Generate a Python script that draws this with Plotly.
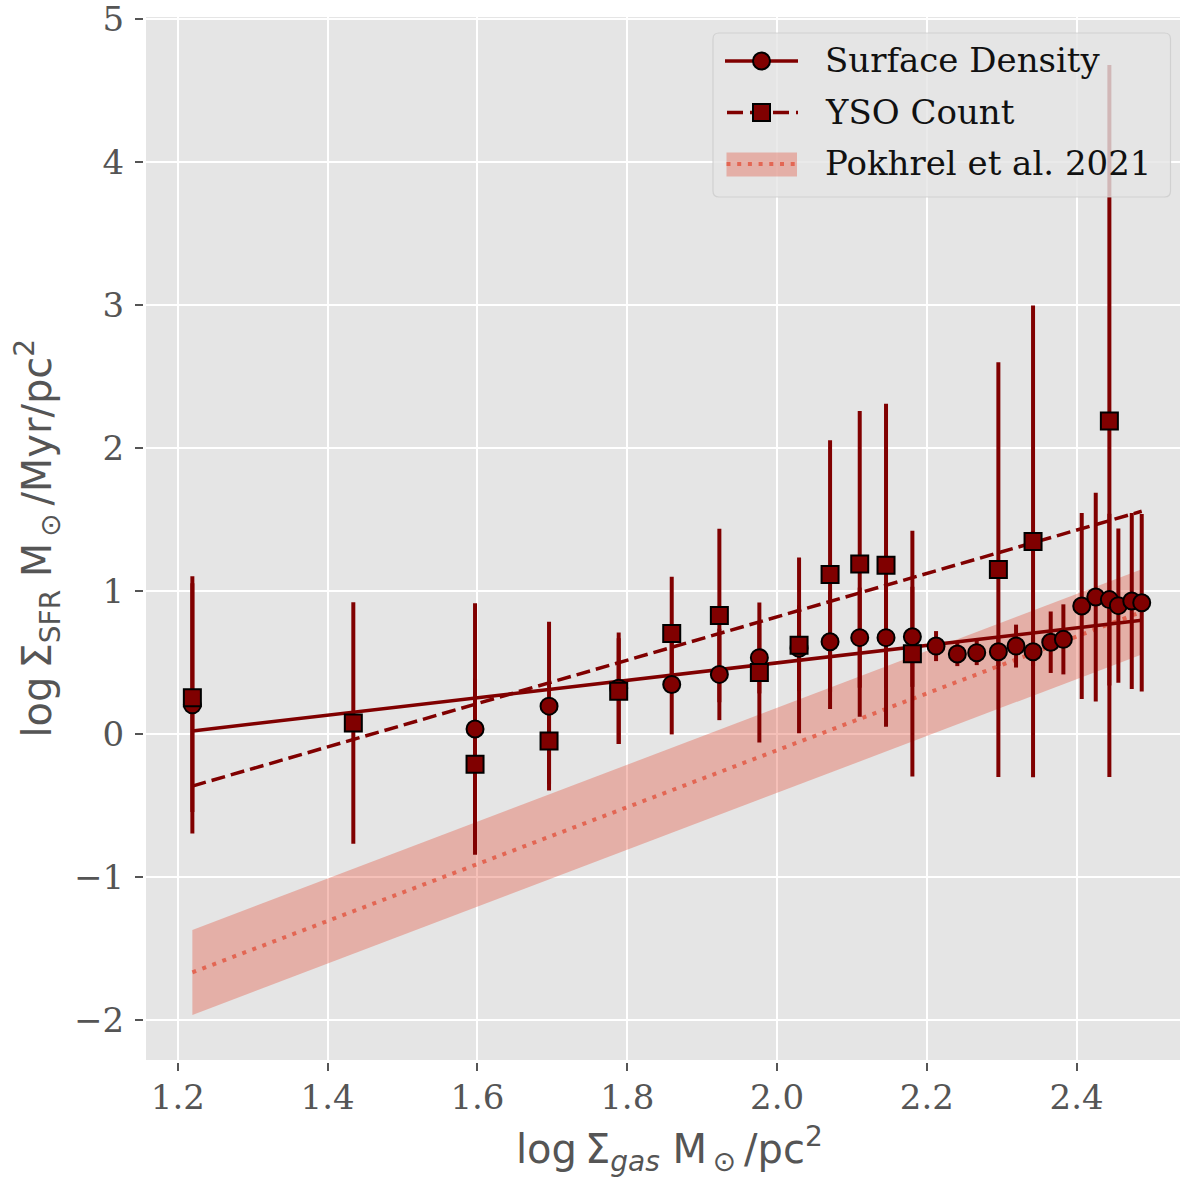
import plotly.graph_objects as go

# ---- Star formation rate per gas surface density bin ----
# Surface-density based estimate (circles)
sd_x = [1.2194, 1.5968, 1.6956, 1.7886, 1.8594, 1.9230, 1.9764, 2.0294, 2.0708,
        2.1104, 2.1455, 2.1807, 2.2123, 2.2407, 2.2666, 2.2955, 2.3191, 2.3418,
        2.3654, 2.3823, 2.4068, 2.4255, 2.4437, 2.4557, 2.4736, 2.4869]
sd_y = [0.204, 0.035, 0.195, 0.32, 0.347, 0.417, 0.534, 0.60, 0.645,
        0.674, 0.674, 0.68, 0.615, 0.56, 0.569, 0.576, 0.615, 0.576,
        0.642, 0.662, 0.895, 0.958, 0.94, 0.898, 0.93, 0.918]
sd_err = [0.90, 0.88, 0.59, 0.39, 0.35, 0.32, 0.25, 0.30, 0.35,
          0.35, 0.35, 0.35, 0.105, 0.085, 0.087, 0.10, 0.15, 0.10,
          0.215, 0.245, 0.65, 0.73, 0.60, 0.54, 0.615, 0.62]

# YSO-count based estimate (squares)
yso_x = [1.2194, 1.4343, 1.5968, 1.6956, 1.7886, 1.8594, 1.9230, 1.9764,
         2.0294, 2.0708, 2.1104, 2.1455, 2.1807, 2.2955, 2.3418, 2.4437]
yso_y = [0.254, 0.077, -0.212, -0.049, 0.30, 0.703, 0.829, 0.43,
         0.62, 1.115, 1.19, 1.18, 0.562, 1.15, 1.347, 2.19]
yso_err = [0.80, 0.845, 0.60, 0.30, 0.37, 0.397, 0.607, 0.49,
           0.615, 0.94, 1.07, 1.13, 0.86, 1.45, 1.65, 2.49]

# Linear fits to both estimates
fit_x = [1.2194, 2.4869]
sd_fit = [0.021, 0.795]
yso_fit = [-0.364, 1.558]

# Pokhrel et al. 2021 relation with its scatter band
pok_x = [1.2194, 2.4869]
pok_mid = [-1.667, 0.855]
pok_lo = [-1.965, 0.557]
pok_hi = [-1.370, 1.152]

x_ticks = [1.2, 1.4, 1.6, 1.8, 2.0, 2.2, 2.4]
y_ticks = [-2, -1, 0, 1, 2, 3, 4, 5]
legend_labels = ["Surface Density", "YSO Count", "Pokhrel et al. 2021"]

DARK = "#800000"
BAND = "rgba(226,74,51,0.35)"
DOT = "rgba(226,74,51,0.72)"
SERIF = "DejaVu Serif"
SANS = "DejaVu Sans"

# plot-area geometry in pixels (used for the hand-drawn legend)
W, H = 1180, 1181
L, R, T, B = 146, 1180, 17, 1060


def px(xp):
    return (xp - L) / (R - L)


def py(yp):
    return (B - yp) / (B - T)


fig = go.Figure()

# scatter band and dotted relation
fig.add_trace(go.Scatter(x=pok_x, y=pok_lo, mode="lines", line=dict(width=0),
                         hoverinfo="skip"))
fig.add_trace(go.Scatter(x=pok_x, y=pok_hi, mode="lines", line=dict(width=0),
                         fill="tonexty", fillcolor=BAND))
fig.add_trace(go.Scatter(x=pok_x, y=pok_mid, mode="lines",
                         line=dict(color=DOT, width=4, dash="4px,6.7px")))

# fits
fig.add_trace(go.Scatter(x=fit_x, y=sd_fit, mode="lines",
                         line=dict(color=DARK, width=3.5)))
fig.add_trace(go.Scatter(x=fit_x, y=yso_fit, mode="lines",
                         line=dict(color=DARK, width=3.5, dash="14px,6px")))

# error bars (all drawn beneath the markers)
for xs, ys, es in [(sd_x, sd_y, sd_err), (yso_x, yso_y, yso_err)]:
    fig.add_trace(go.Scatter(
        x=xs, y=ys, mode="markers", marker=dict(size=0.1, opacity=0),
        error_y=dict(type="data", array=es, visible=True, color=DARK,
                     thickness=4, width=0)))

# markers
fig.add_trace(go.Scatter(x=sd_x, y=sd_y, mode="markers",
                         marker=dict(symbol="circle", size=17, color=DARK,
                                     line=dict(color="black", width=2))))
fig.add_trace(go.Scatter(x=yso_x, y=yso_y, mode="markers",
                         marker=dict(symbol="square", size=17, color=DARK,
                                     line=dict(color="black", width=2))))

# ---- legend box ----
shapes = []
x0, x1, y0, y1, r = 713, 1170.5, 33, 197, 6
path = (f"M{px(x0 + r)},{py(y0)} L{px(x1 - r)},{py(y0)} "
        f"Q{px(x1)},{py(y0)} {px(x1)},{py(y0 + r)} "
        f"L{px(x1)},{py(y1 - r)} Q{px(x1)},{py(y1)} {px(x1 - r)},{py(y1)} "
        f"L{px(x0 + r)},{py(y1)} Q{px(x0)},{py(y1)} {px(x0)},{py(y1 - r)} "
        f"L{px(x0)},{py(y0 + r)} Q{px(x0)},{py(y0)} {px(x0 + r)},{py(y0)} Z")
shapes.append(dict(type="path", path=path, xref="paper", yref="paper",
                   fillcolor="rgba(229,229,229,0.8)",
                   line=dict(color="rgba(204,204,204,0.8)", width=1.2),
                   layer="above"))

rows = [61, 112.5, 164]
sx0, sx1, mx = 725, 798, 761.5
# entry 1: solid line + circle
shapes.append(dict(type="line", xref="paper", yref="paper",
                   x0=px(sx0), x1=px(sx1), y0=py(rows[0]), y1=py(rows[0]),
                   line=dict(color=DARK, width=3.5), layer="above"))
shapes.append(dict(type="circle", xref="paper", yref="paper",
                   xsizemode="pixel", ysizemode="pixel",
                   xanchor=px(mx), yanchor=py(rows[0]),
                   x0=-8.5, x1=8.5, y0=-8.5, y1=8.5,
                   fillcolor=DARK, line=dict(color="black", width=2),
                   layer="above"))
# entry 2: dashed line + square
shapes.append(dict(type="line", xref="paper", yref="paper",
                   x0=px(sx0 + 2), x1=px(sx1), y0=py(rows[1]), y1=py(rows[1]),
                   line=dict(color=DARK, width=3.5, dash="16px,7px"),
                   layer="above"))
shapes.append(dict(type="rect", xref="paper", yref="paper",
                   xsizemode="pixel", ysizemode="pixel",
                   xanchor=px(mx), yanchor=py(rows[1]),
                   x0=-8.5, x1=8.5, y0=-8.5, y1=8.5,
                   fillcolor=DARK, line=dict(color="black", width=2),
                   layer="above"))
# entry 3: band patch + dotted line
shapes.append(dict(type="rect", xref="paper", yref="paper",
                   x0=px(726.5), x1=px(797), y0=py(152.5), y1=py(176.5),
                   fillcolor=BAND, line=dict(width=0), layer="above"))
shapes.append(dict(type="line", xref="paper", yref="paper",
                   x0=px(726.5), x1=px(797), y0=py(rows[2]), y1=py(rows[2]),
                   line=dict(color=DOT, width=4, dash="4px,6.7px"),
                   layer="above"))

annotations = []
for label, yy in zip(legend_labels, rows):
    annotations.append(dict(text=label, xref="paper", yref="paper",
                            x=px(823), y=py(yy - 1), xanchor="left",
                            yanchor="middle", showarrow=False,
                            font=dict(family=SERIF, size=34, color="#111111")))

# axis titles
annotations.append(dict(
    text="log\u2009Σ<sub><i>gas</i></sub> M<sub>\u2009⊙</sub>\u2009/pc<sup>2</sup>",
    xref="paper", yref="paper", x=px(669), y=py(1149),
    xanchor="center", yanchor="middle", showarrow=False,
    font=dict(family=SANS, size=40, color="#555555")))
annotations.append(dict(
    text="log\u2009Σ<sub>SFR</sub> M<sub>\u2009⊙</sub>\u2009/Myr/pc<sup>2</sup>",
    xref="paper", yref="paper", x=px(37), y=py(538.5), textangle=-90,
    xanchor="center", yanchor="middle", showarrow=False,
    font=dict(family=SANS, size=40, color="#555555")))

axis_common = dict(
    showgrid=True, gridcolor="white", gridwidth=2, zeroline=False,
    showline=True, linecolor="white", linewidth=3,
    ticks="outside", ticklen=8, tickwidth=1.5, tickcolor="#555555",
    ticklabeloverflow="allow",
    tickfont=dict(family=SERIF, size=34, color="#555555"),
)

fig.update_layout(
    width=W, height=H,
    margin=dict(l=L, r=W - R, t=T, b=H - B, pad=0),
    paper_bgcolor="white", plot_bgcolor="#E5E5E5",
    showlegend=False,
    shapes=shapes, annotations=annotations,
    xaxis=dict(range=[1.1575, 2.538], tickvals=x_ticks,
               ticktext=[f"{v:.1f}" for v in x_ticks],
               ticklabelstandoff=-3, **axis_common),
    yaxis=dict(range=[-2.28, 5.015], tickvals=y_ticks,
               ticktext=[str(v).replace("-", "\u2212") for v in y_ticks],
               ticklabelstandoff=4, **axis_common),
)

fig.write_html("out.html")
